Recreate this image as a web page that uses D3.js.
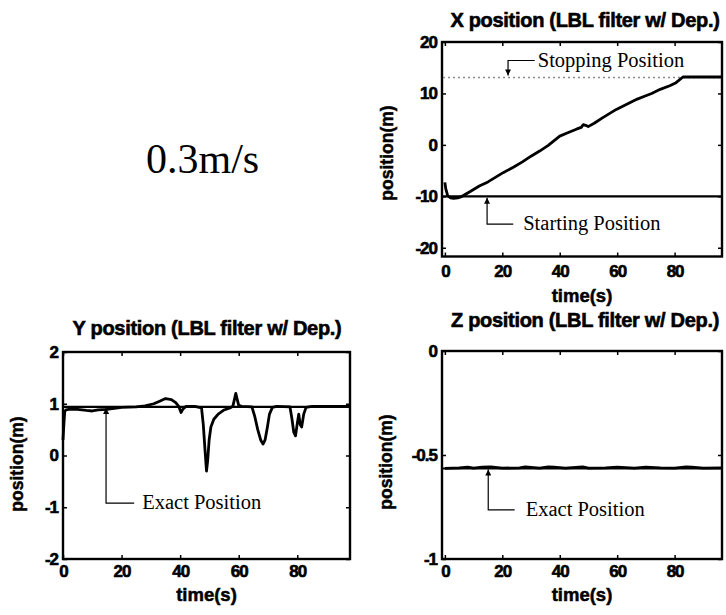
<!DOCTYPE html>
<html>
<head>
<meta charset="utf-8">
<script src="https://cdn.jsdelivr.net/npm/d3@7.9.0/dist/d3.min.js"></script>
<style>
  body { margin: 0; background: #fff; }
  svg { display: block; }
  .tick text { font-family: 'Liberation Sans', Arial, sans-serif; font-weight: bold; font-size: 17px; letter-spacing: -1px; fill: #000; stroke: #000; stroke-width: 0.6px; }
  .tick line { stroke: #000; stroke-width: 1.5; }
  .title { font-family: 'Liberation Sans', Arial, sans-serif; font-weight: bold; font-size: 20px; letter-spacing: -0.3px; stroke: #000; stroke-width: 0.6px; }
  .xlab { font-family: 'Liberation Sans', Arial, sans-serif; font-weight: bold; font-size: 18.5px; stroke: #000; stroke-width: 0.5px; }
  .ylab { font-family: 'Liberation Sans', Arial, sans-serif; font-weight: bold; font-size: 17.5px; stroke: #000; stroke-width: 0.5px; }
  .note { font-family: 'Liberation Serif', 'Times New Roman', serif; font-size: 20.5px; }
</style>
</head>
<body>
<script>
// x position (LBL filter w/ Dep.)
const xTime = [0, 0.3, 1, 2, 3, 4.5, 6, 8.7, 12, 15, 20.3, 24, 27, 30, 33, 36, 40, 43, 46, 47.5, 48.2, 49, 49.9, 52, 55, 59.7, 63, 67, 70.2, 72, 75, 78.3, 80.5, 82.9, 96.5];
const xPos = [-7.3, -8.5, -9.9, -10.3, -10.4, -10.3, -10.0, -9.1, -8.0, -7.2, -5.4, -4.3, -3.3, -2.2, -1.2, -0.1, 1.7, 2.4, 3.1, 3.4, 3.95, 3.8, 3.55, 4.2, 5.3, 6.9, 7.8, 8.9, 9.6, 10.0, 10.8, 11.5, 12.1, 13.2, 13.2];
const xStart = -10;
const xStop = 13.1;

// y position
const yTime = [0, 0.3, 0.6, 1, 2, 5, 8, 10, 12, 15, 20, 25, 28, 31, 33, 35, 37, 38.5, 39.5, 40.3, 41, 42, 45, 47.3, 47.9, 48.5, 49, 49.4, 49.9, 50.5, 51.5, 53, 55, 57, 58, 58.6, 59, 59.5, 60, 61, 64.5, 65.5, 66.5, 67.5, 68.3, 69, 69.8, 70.5, 71.5, 73, 77.5, 78.2, 78.8, 79.4, 80, 80.5, 81, 81.5, 82.2, 83, 85, 98];
const yPos = [0.3, 0.6, 0.85, 0.88, 0.89, 0.89, 0.87, 0.86, 0.88, 0.89, 0.93, 0.94, 0.96, 1.0, 1.05, 1.1, 1.08, 1.02, 0.95, 0.83, 0.9, 0.95, 0.95, 0.92, 0.6, 0.1, -0.3, -0.1, 0.3, 0.55, 0.7, 0.8, 0.88, 0.92, 0.95, 1.1, 1.2, 1.08, 0.97, 0.95, 0.94, 0.75, 0.5, 0.3, 0.22, 0.3, 0.55, 0.8, 0.93, 0.95, 0.94, 0.7, 0.45, 0.38, 0.62, 0.8, 0.6, 0.55, 0.8, 0.93, 0.95, 0.95];
const yExact = 0.94;

// z position
const zTime = [0, 5, 8, 10, 13, 16, 20, 26, 28, 33, 36, 38, 42, 48, 50, 56, 60, 66, 70, 75, 80, 84, 86, 90, 96.5];
const zPos = [-0.564, -0.562, -0.558, -0.563, -0.558, -0.557, -0.563, -0.562, -0.557, -0.563, -0.557, -0.558, -0.563, -0.557, -0.563, -0.562, -0.558, -0.563, -0.558, -0.562, -0.563, -0.557, -0.558, -0.563, -0.562];
const zExact = -0.565;

const timeTicks = [0, 20, 40, 60, 80];
const xTicks = [-20, -10, 0, 10, 20];
const yTicks = [-2, -1, 0, 1, 2];
const zTicks = [-1, -0.5, 0];

const svg = d3.select('body').append('svg').attr('width', 726).attr('height', 615);

const defs = svg.append('defs');
defs.append('marker')
  .attr('id', 'head')
  .attr('viewBox', '0 0 10 10')
  .attr('refX', 10).attr('refY', 5)
  .attr('markerWidth', 7).attr('markerHeight', 6)
  .attr('markerUnits', 'userSpaceOnUse')
  .attr('orient', 'auto')
  .append('path').attr('d', 'M0,0L10,5L0,10z').attr('fill', '#000');

function panel(p) {
  const g = svg.append('g');
  const x = d3.scaleLinear().domain(p.xDomain).range([p.left, p.right]);
  const y = d3.scaleLinear().domain(p.yDomain).range([p.bottom, p.top]);
  const fmt = (d) => String(d);

  g.append('g').attr('transform', `translate(0,${p.bottom})`)
    .call(d3.axisBottom(x).tickValues(timeTicks).tickSizeInner(-4).tickSizeOuter(0).tickPadding(p.xPad).tickFormat(fmt));
  g.append('g').attr('transform', `translate(0,${p.top})`)
    .call(d3.axisTop(x).tickValues(timeTicks).tickSizeInner(-4).tickSizeOuter(0).tickFormat(''));
  g.append('g').attr('transform', `translate(${p.left},0)`)
    .call(d3.axisLeft(y).tickValues(p.yTicks).tickSizeInner(-4).tickSizeOuter(0).tickPadding(5).tickFormat(fmt));
  g.append('g').attr('transform', `translate(${p.right},0)`)
    .call(d3.axisRight(y).tickValues(p.yTicks).tickSizeInner(-4).tickSizeOuter(0).tickFormat(''));
  g.selectAll('.domain').remove();

  g.append('rect')
    .attr('x', p.left).attr('y', p.top)
    .attr('width', p.right - p.left).attr('height', p.bottom - p.top)
    .attr('fill', 'none').attr('stroke', '#000').attr('stroke-width', 2.4);

  g.append('text').attr('class', 'title')
    .attr('x', p.titleX).attr('y', p.titleY).attr('text-anchor', 'middle')
    .text(p.title);
  g.append('text').attr('class', 'xlab')
    .attr('x', (p.left + p.right) / 2).attr('y', p.xlabY).attr('text-anchor', 'middle')
    .text('time(s)');
  g.append('text').attr('class', 'ylab')
    .attr('transform', `translate(${p.ylabX},${p.ylabY}) rotate(-90)`)
    .attr('text-anchor', 'middle')
    .text('position(m)');

  return { g, x, y };
}

function refLine(pn, value, dashed) {
  const [x0, x1] = pn.x.domain();
  pn.g.append('line')
    .attr('x1', pn.x(x0) + 1).attr('x2', pn.x(x1) - 1)
    .attr('y1', pn.y(value)).attr('y2', pn.y(value))
    .attr('stroke', dashed ? '#8a8a8a' : '#000')
    .attr('stroke-width', dashed ? 1.4 : 2.2)
    .attr('stroke-dasharray', dashed ? '2,3' : null);
}

function trace(pn, ts, vs) {
  const line = d3.line().x((d, i) => pn.x(ts[i])).y((d, i) => pn.y(vs[i]));
  pn.g.append('path')
    .attr('d', line(ts))
    .attr('fill', 'none').attr('stroke', '#000')
    .attr('stroke-width', 2.8).attr('stroke-linejoin', 'round');
}

// arrow from text elbow to the reference line
function note(pn, a) {
  const ax = pn.x(a.t), ay = pn.y(a.v), ey = pn.y(a.elbowV), ex = pn.x(a.elbowT);
  pn.g.append('path')
    .attr('d', `M${ex},${ey}H${ax}V${ay}`)
    .attr('fill', 'none').attr('stroke', '#000').attr('stroke-width', 1.2)
    .attr('marker-end', 'url(#head)');
  pn.g.append('text').attr('class', 'note')
    .attr('x', ex + a.gap).attr('y', ey + 6)
    .text(a.label);
}

// top left speed label
svg.append('text')
  .attr('x', 146).attr('y', 173)
  .attr('font-family', "'Liberation Serif', 'Times New Roman', serif")
  .attr('font-size', 42)
  .text('0.3m/s');

const px = panel({
  left: 442, right: 722, top: 42, bottom: 256.5,
  xDomain: [-1, 96.5], yDomain: [-21.7, 20], yTicks: xTicks, xPad: 8,
  title: 'X position (LBL filter w/ Dep.)', titleX: 585, titleY: 27,
  xlabY: 302, ylabX: 393, ylabY: 153
});
refLine(px, xStop, true);
refLine(px, xStart, false);
trace(px, xTime, xPos);
note(px, { t: 22, v: xStop + 0.4, elbowT: 31.3, elbowV: 16.4, gap: 3, label: 'Stopping Position' });
note(px, { t: 14.7, v: xStart - 0.3, elbowT: 23.8, elbowV: -15.4, gap: 10, label: 'Starting Position' });

const py = panel({
  left: 63, right: 350, top: 352, bottom: 559,
  xDomain: [0, 98], yDomain: [-2, 2], yTicks: yTicks, xPad: 6,
  title: 'Y position (LBL filter w/ Dep.)', titleX: 207, titleY: 335,
  xlabY: 601, ylabX: 23, ylabY: 464
});
refLine(py, yExact, false);
trace(py, yTime, yPos);
note(py, { t: 14.7, v: yExact - 0.02, elbowT: 24.3, elbowV: -0.92, gap: 8, label: 'Exact Position' });

const pz = panel({
  left: 442, right: 722, top: 351, bottom: 559,
  xDomain: [-1, 96.5], yDomain: [-1, 0], yTicks: zTicks, xPad: 6,
  title: 'Z position (LBL filter w/ Dep.)', titleX: 585, titleY: 327,
  xlabY: 601, ylabX: 392, ylabY: 462
});
refLine(pz, zExact, false);
trace(pz, zTime, zPos);
note(pz, { t: 15.1, v: zExact - 0.005, elbowT: 24.3, elbowV: -0.764, gap: 11, label: 'Exact Position' });
</script>
</body>
</html>
